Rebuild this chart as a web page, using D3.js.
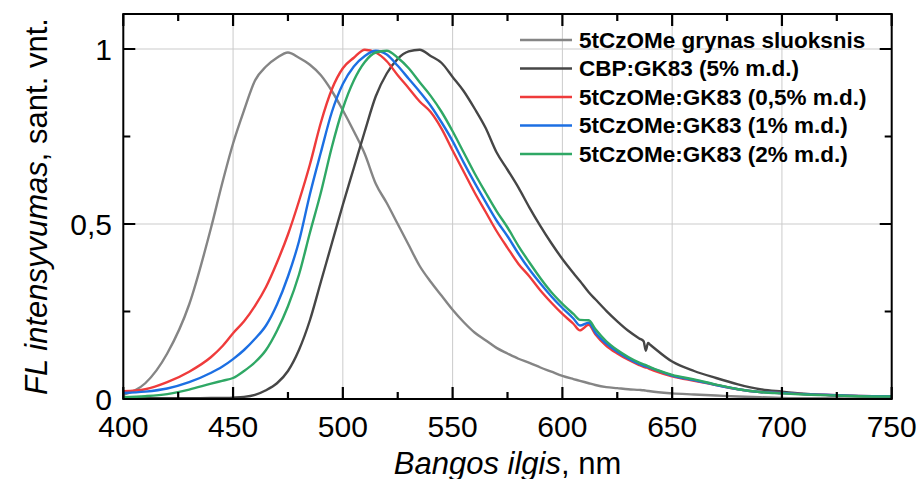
<!DOCTYPE html>
<html>
<head>
<meta charset="utf-8">
<script src="https://cdn.jsdelivr.net/npm/d3@7"></script>
<style>
  body { margin: 0; background: #fff; }
  text { font-family: "Liberation Sans", Arial, sans-serif; fill: #000; }
</style>
</head>
<body>
<div id="chart"></div>
<script>
var wavelengths = [400, 410, 420, 430, 440, 445, 450, 455, 460, 465, 470, 475, 480, 485, 490, 495,
  500, 505, 510, 515, 520, 525, 530, 535, 540, 545, 550, 555, 560, 565, 570, 575, 580, 585, 590, 595,
  600, 605, 608, 612, 615, 620, 625, 630, 635, 637, 638, 639, 640, 650, 660, 670, 680, 690, 700, 710,
  720, 735, 750];

var neatFilm = [0.012, 0.045, 0.13, 0.27, 0.49, 0.615, 0.73, 0.825, 0.91, 0.95, 0.975, 0.99, 0.975, 0.955, 0.925, 0.88,
  0.825, 0.765, 0.70, 0.615, 0.56, 0.50, 0.44, 0.38, 0.335, 0.295, 0.255, 0.22, 0.19, 0.168, 0.146, 0.13, 0.115, 0.103, 0.09, 0.078,
  0.066, 0.057, 0.052, 0.045, 0.04, 0.034, 0.031, 0.028, 0.026, 0.025, 0.024, 0.023, 0.022, 0.016, 0.013, 0.01, 0.007, 0.005, 0.003, 0.002,
  0.002, 0.001, 0.001];

var cbpHost = [0.002, 0.002, 0.002, 0.002, 0.003, 0.003, 0.004, 0.006, 0.012, 0.025, 0.045, 0.08, 0.14, 0.225, 0.335, 0.445,
  0.555, 0.66, 0.765, 0.865, 0.93, 0.972, 0.993, 0.998, 0.98, 0.96, 0.92, 0.88, 0.83, 0.775, 0.705, 0.655, 0.604, 0.547, 0.494, 0.445,
  0.40, 0.36, 0.337, 0.305, 0.285, 0.252, 0.222, 0.195, 0.173, 0.165, 0.138, 0.16, 0.155, 0.107, 0.08, 0.06, 0.042, 0.028, 0.021, 0.015,
  0.011, 0.008, 0.006];

var dope05 = [0.022, 0.028, 0.048, 0.078, 0.12, 0.15, 0.188, 0.222, 0.266, 0.32, 0.39, 0.47, 0.565, 0.67, 0.79, 0.885,
  0.945, 0.975, 0.998, 0.99, 0.965, 0.925, 0.888, 0.85, 0.82, 0.772, 0.71, 0.65, 0.59, 0.535, 0.48, 0.432, 0.386, 0.35, 0.31, 0.275,
  0.243, 0.215, 0.196, 0.212, 0.185, 0.152, 0.13, 0.112, 0.097, 0.092, 0.09, 0.088, 0.085, 0.065, 0.052, 0.04, 0.028, 0.02, 0.017, 0.014,
  0.012, 0.009, 0.008];

var dope1 = [0.017, 0.021, 0.03, 0.048, 0.075, 0.092, 0.114, 0.14, 0.172, 0.21, 0.27, 0.35, 0.45, 0.585, 0.705, 0.82,
  0.9, 0.95, 0.98, 0.995, 0.984, 0.952, 0.915, 0.878, 0.838, 0.79, 0.737, 0.676, 0.618, 0.563, 0.51, 0.465, 0.415, 0.37, 0.33, 0.293,
  0.26, 0.23, 0.21, 0.218, 0.19, 0.158, 0.135, 0.116, 0.1, 0.095, 0.093, 0.091, 0.089, 0.067, 0.054, 0.04, 0.028, 0.02, 0.017, 0.014,
  0.012, 0.009, 0.008];

var dope2 = [0.005, 0.008, 0.014, 0.027, 0.044, 0.052, 0.06, 0.08, 0.105, 0.14, 0.195, 0.265, 0.355, 0.475, 0.59, 0.72,
  0.83, 0.91, 0.963, 0.99, 0.995, 0.975, 0.945, 0.905, 0.866, 0.82, 0.765, 0.705, 0.645, 0.59, 0.537, 0.49, 0.437, 0.39, 0.345, 0.305,
  0.272, 0.243, 0.226, 0.225, 0.2, 0.165, 0.14, 0.12, 0.104, 0.099, 0.097, 0.094, 0.091, 0.069, 0.056, 0.041, 0.028, 0.02, 0.016, 0.013,
  0.011, 0.008, 0.007];

var seriesNames = ["5tCzOMe grynas sluoksnis", "CBP:GK83 (5% m.d.)", "5tCzOMe:GK83 (0,5% m.d.)",
  "5tCzOMe:GK83 (1% m.d.)", "5tCzOMe:GK83 (2% m.d.)"];
var seriesValues = [neatFilm, cbpHost, dope05, dope1, dope2];
var seriesColors = ["#858585", "#464646", "#ef3b3b", "#1c6fe3", "#2fa865"];

var xTicks = [400, 450, 500, 550, 600, 650, 700, 750];
var xMinorTicks = [425, 475, 525, 575, 625, 675, 725];
var yTicks = [0, 0.5, 1];
var yMinorTicks = [0.25, 0.75];
var yTickLabels = ["0", "0,5", "1"];

function drawChart() {
  var W = 920, H = 479;
  var pL = 123.3, pR = 891.7, pT = 14, pB = 399;

  var svg = d3.select("#chart").append("svg")
    .attr("width", W)
    .attr("height", H);

  var scX = d3.scaleLinear().domain([400, 750]).range([pL, pR]);
  var scY = d3.scaleLinear().domain([0, 1.1]).range([pB, pT]);

  // --- grid ---
  var grid = svg.append("g").attr("stroke", "#cbcbcb").attr("stroke-width", 1);
  grid.selectAll("line.gx")
    .data(xTicks.slice(1, -1))
    .enter().append("line")
    .attr("x1", d => scX(d)).attr("x2", d => scX(d))
    .attr("y1", pT).attr("y2", pB);
  grid.selectAll("line.gy")
    .data(yTicks.slice(1))
    .enter().append("line")
    .attr("x1", pL).attr("x2", pR)
    .attr("y1", d => scY(d)).attr("y2", d => scY(d));

  // --- curves ---
  svg.append("clipPath").attr("id", "plotclip")
    .append("rect").attr("x", pL).attr("y", pT).attr("width", pR - pL).attr("height", pB - pT);

  var lnMkr = d3.line()
    .curve(d3.curveMonotoneX)
    .x((d, i) => scX(wavelengths[i]))
    .y(d => scY(d));

  svg.append("g").attr("clip-path", "url(#plotclip)")
    .selectAll("path")
    .data(seriesValues)
    .enter().append("path")
    .attr("fill", "none")
    .attr("stroke", (d, i) => seriesColors[i])
    .attr("stroke-width", 2.4)
    .attr("stroke-linejoin", "round")
    .attr("d", d => lnMkr(d));

  // --- frame ---
  svg.append("rect")
    .attr("x", pL).attr("y", pT)
    .attr("width", pR - pL).attr("height", pB - pT)
    .attr("fill", "none").attr("stroke", "#000").attr("stroke-width", 2);

  // --- ticks, inward on all four sides ---
  var tickPath = d3.path();
  xTicks.forEach(v => {
    tickPath.moveTo(scX(v), pB); tickPath.lineTo(scX(v), pB - 12);
    tickPath.moveTo(scX(v), pT); tickPath.lineTo(scX(v), pT + 12);
  });
  xMinorTicks.forEach(v => {
    tickPath.moveTo(scX(v), pB); tickPath.lineTo(scX(v), pB - 7);
    tickPath.moveTo(scX(v), pT); tickPath.lineTo(scX(v), pT + 7);
  });
  yTicks.forEach(v => {
    tickPath.moveTo(pL, scY(v)); tickPath.lineTo(pL + 12, scY(v));
    tickPath.moveTo(pR, scY(v)); tickPath.lineTo(pR - 12, scY(v));
  });
  yMinorTicks.forEach(v => {
    tickPath.moveTo(pL, scY(v)); tickPath.lineTo(pL + 7, scY(v));
    tickPath.moveTo(pR, scY(v)); tickPath.lineTo(pR - 7, scY(v));
  });
  svg.append("path")
    .attr("d", tickPath.toString())
    .attr("fill", "none")
    .attr("stroke", "#000")
    .attr("stroke-width", 2.2);

  // --- tick labels ---
  svg.append("g").selectAll("text")
    .data(xTicks)
    .enter().append("text")
    .attr("x", d => scX(d))
    .attr("y", 437)
    .attr("text-anchor", "middle")
    .attr("font-size", 30)
    .text(d => d);

  svg.append("g").selectAll("text")
    .data(yTicks)
    .enter().append("text")
    .attr("x", 112)
    .attr("y", d => scY(d))
    .attr("dy", "0.35em")
    .attr("text-anchor", "end")
    .attr("font-size", 30)
    .text((d, i) => yTickLabels[i]);

  // --- axis titles ---
  var xt = svg.append("text")
    .attr("x", (pL + pR) / 2)
    .attr("y", 474)
    .attr("text-anchor", "middle")
    .attr("font-size", 31);
  xt.append("tspan").attr("font-style", "italic").text("Bangos ilgis");
  xt.append("tspan").text(", nm");

  var yt = svg.append("text")
    .attr("transform", `translate(47,${(pT + pB) / 2}) rotate(-90)`)
    .attr("text-anchor", "middle")
    .attr("font-size", 31);
  yt.append("tspan").attr("font-style", "italic").text("FL intensyvumas");
  yt.append("tspan").text(", sant. vnt.");

  // --- legend ---
  var rows = svg.append("g").selectAll("g")
    .data(seriesNames)
    .enter().append("g")
    .attr("transform", (d, i) => `translate(520,${40 + i * 28.5})`);
  rows.append("line")
    .attr("x1", 0).attr("x2", 52)
    .attr("stroke", (d, i) => seriesColors[i])
    .attr("stroke-width", 2.5);
  rows.append("text")
    .attr("x", 59)
    .attr("dy", "0.35em")
    .attr("font-size", 22.5)
    .attr("font-weight", "bold")
    .text(d => d);
}

drawChart();
</script>
</body>
</html>
